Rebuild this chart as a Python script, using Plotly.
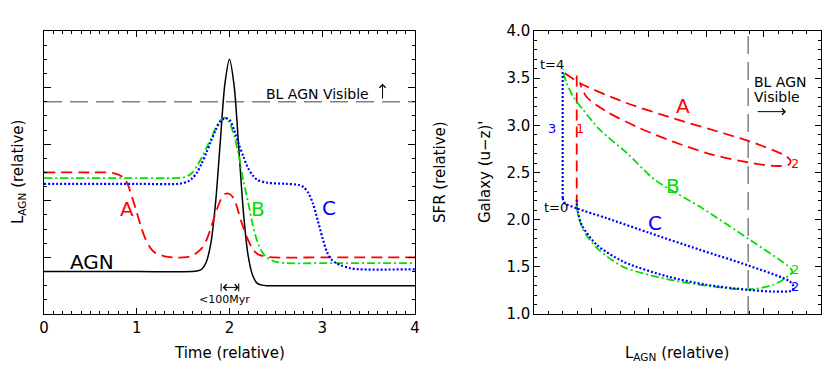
import plotly.graph_objects as go

FONT = "DejaVu Sans"
RED, GREEN, BLUE = "#ff0000", "#00e000", "#0000ff"
GRAY = "#808080"

# ---- left panel: L_AGN vs time (relative units) ----
t_agn = [0, 1.0, 1.6, 1.65, 1.7, 1.75, 1.8, 1.85, 1.9, 1.95, 2.0,
         2.05, 2.1, 2.15, 2.2, 2.25, 2.3, 2.35, 2.4, 3.0, 4]
L_agn = [0.75, 0.75, 0.75, 0.76, 0.79, 0.92, 1.26, 1.97, 3.03, 4.06, 4.5,
         4.03, 2.93, 1.8, 1.04, 0.68, 0.54, 0.51, 0.5, 0.5, 0.5]

t_a = [0, 0.5, 0.75, 0.85, 0.9, 0.95, 1.0, 1.05, 1.1, 1.15, 1.2, 1.3, 1.4,
       1.5, 1.6, 1.7, 1.75, 1.8, 1.85, 1.9, 1.95, 2.0, 2.05, 2.1, 2.15,
       2.2, 2.25, 2.3, 2.4, 3.0, 4]
L_a = [2.5, 2.5, 2.49, 2.42, 2.3, 2.06, 1.8, 1.52, 1.3, 1.16, 1.08, 1.02, 1.0,
       1.0, 1.03, 1.16, 1.3, 1.52, 1.78, 2.0, 2.12, 2.12, 2.03, 1.78, 1.52,
       1.31, 1.15, 1.06, 1.01, 1.0, 1.0]

t_b = [0, 1.0, 1.4, 1.5, 1.55, 1.6, 1.65, 1.7, 1.75, 1.8, 1.85, 1.9, 1.95,
       2.0, 2.05, 2.1, 2.15, 2.2, 2.25, 2.3, 2.35, 2.4, 2.5, 2.6, 3.2, 4]
L_b = [2.4, 2.4, 2.4, 2.41, 2.44, 2.5, 2.62, 2.76, 2.93, 3.1, 3.28, 3.42, 3.47,
       3.38, 3.15, 2.8, 2.35, 1.98, 1.58, 1.28, 1.1, 1.0, 0.92, 0.9, 0.9, 0.9]

t_c = [0, 1.0, 1.45, 1.55, 1.6, 1.65, 1.7, 1.75, 1.8, 1.85, 1.9, 1.95, 2.0,
       2.05, 2.1, 2.15, 2.2, 2.25, 2.3, 2.4, 2.6, 2.75, 2.8, 2.85, 2.9, 2.95,
       3.0, 3.05, 3.1, 3.15, 3.2, 3.3, 3.4, 4]
L_c = [2.3, 2.3, 2.3, 2.34, 2.4, 2.5, 2.66, 2.85, 3.05, 3.25, 3.4, 3.46, 3.43,
       3.25, 3.0, 2.78, 2.58, 2.45, 2.37, 2.32, 2.3, 2.28, 2.24, 2.14, 1.95, 1.66,
       1.36, 1.1, 0.96, 0.9, 0.86, 0.81, 0.79, 0.79]

BL_VISIBLE_L = 3.75          # broad-line AGN visibility threshold (left)

# ---- right panel: galaxy colour vs L_AGN tracks ----
a_vert_x = [0.74, 0.74]
a_vert_y = [2.15, 3.58]
a_loop_x = [0.535, 0.80, 1.55, 2.42, 3.30, 3.76, 4.40, 4.47, 4.43, 4.17, 3.76,
            3.12, 2.42, 1.844, 1.263, 0.914, 0.80]
a_loop_y = [3.552, 3.446, 3.25, 3.075, 2.916, 2.83, 2.67, 2.62, 2.58, 2.57, 2.605,
            2.686, 2.827, 2.969, 3.145, 3.30, 3.44]

b_x = [0.74, 0.75, 0.855, 1.09, 1.55, 2.31, 3.0, 3.733, 4.17, 4.46, 4.5,
       4.46, 3.762, 2.89, 2.105, 1.612, 1.146, 0.855, 0.68, 0.565, 0.495]
b_y = [2.175, 2.086, 1.89, 1.70, 1.50, 1.37, 1.30, 1.26, 1.31, 1.415, 1.45,
       1.49, 1.786, 2.136, 2.422, 2.708, 2.951, 3.163, 3.304, 3.446, 3.587]

c_vert_x = [0.495, 0.495]
c_vert_y = [2.23, 3.59]
c_x = [0.495, 0.535, 0.74, 1.263, 2.02, 2.89, 3.733, 4.46, 4.52, 4.5, 4.17,
       3.733, 3.0, 2.31, 1.55, 1.09, 0.826, 0.75, 0.74]
c_y = [2.23, 2.175, 2.12, 2.016, 1.857, 1.68, 1.514, 1.344, 1.29, 1.25, 1.238,
       1.256, 1.31, 1.40, 1.556, 1.733, 1.945, 2.12, 2.23]

BL_VISIBLE_X = 3.73          # broad-line AGN visibility threshold (right)

fig = go.Figure()


def line(x, y, color, dash, width, xa, ya, shape="spline"):
    fig.add_trace(go.Scatter(
        x=x, y=y, mode="lines", xaxis=xa, yaxis=ya, showlegend=False,
        hoverinfo="skip",
        line=dict(color=color, dash=dash, width=width, shape=shape, smoothing=0.8)))


# left panel
line([0, 4], [BL_VISIBLE_L] * 2, GRAY, "18px,8px", 1.5, "x", "y", "linear")
line(t_agn, L_agn, "black", "solid", 1.5, "x", "y")
line(t_a, L_a, RED, "11px,6px", 1.8, "x", "y")
line(t_b, L_b, GREEN, "8px,3px,2px,3px", 1.8, "x", "y")
line(t_c, L_c, BLUE, "2px,2px", 2.2, "x", "y")

# right panel
line([BL_VISIBLE_X] * 2, [1, 4], GRAY, "18px,8px", 1.5, "x2", "y2", "linear")
line(a_vert_x, a_vert_y, RED, "11px,6px", 1.8, "x2", "y2", "linear")
line(a_loop_x, a_loop_y, RED, "11px,6px", 1.8, "x2", "y2")
line(b_x, b_y, GREEN, "8px,3px,2px,3px", 1.8, "x2", "y2")
line(c_vert_x, c_vert_y, BLUE, "2px,2px", 2.2, "x2", "y2", "linear")
line(c_x, c_y, BLUE, "2px,2px", 2.2, "x2", "y2")

# page body has an 8px margin, so the figure is sized/offset to fit the window
OFF = 8
W, H = 830 - OFF, 377 - OFF


def px(v):
    return (v - OFF) / W


def py(v):
    return 1 - (v - OFF) / H


ax_common = dict(showgrid=False, zeroline=False, showline=True, linecolor="black",
                 linewidth=1, mirror="ticks", ticks="inside", tickcolor="black",
                 automargin=False,
                 tickfont=dict(family=FONT, size=15, color="black"))
ydom = [py(314), py(31)]

fig.update_layout(
    width=W, height=H, template="none",
    margin=dict(l=0, r=0, t=0, b=0),
    paper_bgcolor="white", plot_bgcolor="white",
    font=dict(family=FONT, color="black"),
    xaxis=dict(ax_common, domain=[px(44), px(415)], range=[0, 4], anchor="y",
               dtick=1, ticklen=6,
               minor=dict(dtick=0.1, ticks="inside", ticklen=3, tickcolor="black")),
    yaxis=dict(ax_common, domain=ydom, range=[0, 5], anchor="x", dtick=1,
               ticklen=7, showticklabels=False,
               minor=dict(dtick=0.25, ticks="inside", ticklen=3, tickcolor="black")),
    xaxis2=dict(ax_common, domain=[px(534.3), px(821)], range=[0, 5], anchor="y2",
                dtick=1, ticklen=6, showticklabels=False,
                minor=dict(dtick=0.25, ticks="inside", ticklen=3, tickcolor="black")),
    yaxis2=dict(ax_common, domain=ydom, range=[1, 4], anchor="x2", dtick=0.5,
                tickformat=".1f", ticklen=6,
                minor=dict(dtick=0.1, ticks="inside", ticklen=3, tickcolor="black")),
)


def txt(text, x, y, xref, yref, size, color="black", angle=0, xanchor="center"):
    fig.add_annotation(text=text, x=x, y=y, xref=xref, yref=yref, showarrow=False,
                       textangle=angle, xanchor=xanchor, yanchor="middle",
                       font=dict(family=FONT, size=size, color=color))


def arrow(x0, y0, x1, y1, xref, yref, side="end"):
    fig.add_annotation(text="", x=x1, y=y1, ax=x0, ay=y0, xref=xref, yref=yref,
                       axref=xref, ayref=yref, showarrow=True, arrowhead=4,
                       arrowsize=1.2, arrowwidth=1, arrowcolor="black", arrowside=side)


# axis titles
txt("Time (relative)", px(229), py(353), "paper", "paper", 15)
txt("L<sub>AGN</sub> (relative)", px(18), py(172), "paper", "paper", 15, angle=-90)
txt("L<sub>AGN</sub> (relative)", px(677), py(353), "paper", "paper", 15)
txt("SFR (relative)", px(440), py(172), "paper", "paper", 15, angle=-90)
txt("Galaxy (u\u2212z)'", px(485), py(172), "paper", "paper", 15, angle=-90)

# left panel labels
txt("BL AGN Visible", 2.95, 3.88, "x", "y", 14)
arrow(3.65, 3.78, 3.65, 4.07, "x", "y")
txt("A", 0.89, 1.86, "x", "y", 20, RED)
txt("B", 2.31, 1.86, "x", "y", 20, GREEN)
txt("C", 3.07, 1.87, "x", "y", 20, BLUE)
txt("AGN", 0.52, 0.91, "x", "y", 20)
arrow(1.91, 0.47, 2.10, 0.47, "x", "y", side="end+start")
for xb in (1.91, 2.10):
    fig.add_shape(type="line", x0=xb, x1=xb, y0=0.40, y1=0.54, xref="x", yref="y",
                  line=dict(color="black", width=1))
txt("<100Myr", 1.95, 0.26, "x", "y", 11)

# right panel labels
txt("t=4", 0.30, 3.64, "x2", "y2", 13)
txt("t=0", 0.37, 2.13, "x2", "y2", 13)
txt("A", 2.6, 3.21, "x2", "y2", 20, RED)
txt("B", 2.42, 2.36, "x2", "y2", 20, GREEN)
txt("C", 2.1, 1.96, "x2", "y2", 20, BLUE)
txt("1", 0.8, 2.97, "x2", "y2", 13, RED)
txt("2", 4.55, 2.6, "x2", "y2", 13, RED)
txt("2", 4.55, 1.47, "x2", "y2", 13, GREEN)
txt("2", 4.55, 1.29, "x2", "y2", 13, BLUE)
txt("3", 0.3, 2.97, "x2", "y2", 13, BLUE)
txt("BL AGN", 3.79, 3.46, "x2", "y2", 14, xanchor="left")
txt("Visible", 3.79, 3.30, "x2", "y2", 14, xanchor="left")
arrow(3.87, 3.145, 4.39, 3.145, "x2", "y2")

fig.write_html("out.html")
